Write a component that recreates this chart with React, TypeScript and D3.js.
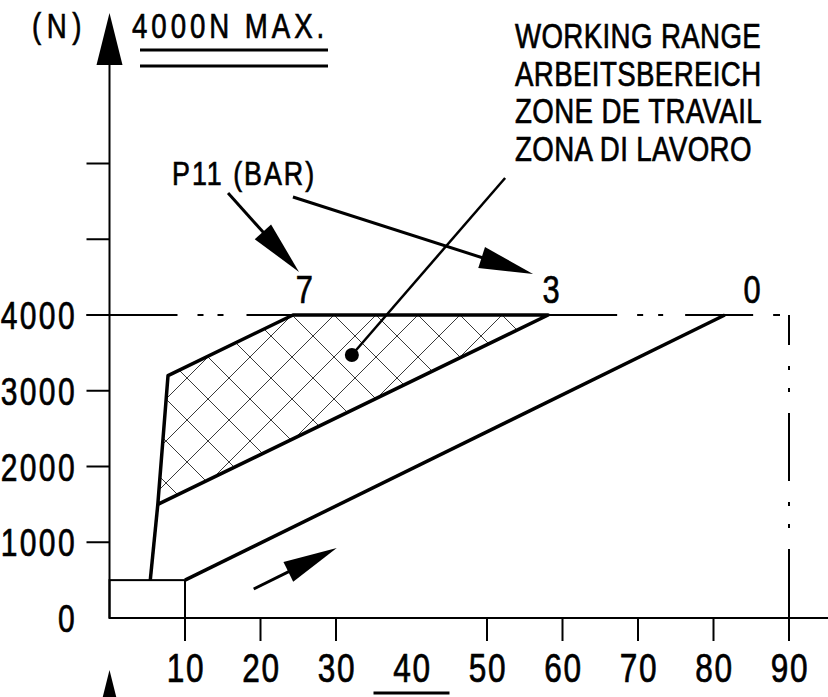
import { useEffect, useRef } from "react";
import * as d3 from "d3";

const W = 828;
const H = 697;
const FONT = "'Liberation Sans', Arial, sans-serif";
const SX = 0.79; // narrow drafting lettering

// stroke (mm) on x, force (N) on y
const xTickValues = [10, 20, 30, 40, 50, 60, 70, 80, 90];
const xUnmarked = [40];
const yTickValues = [1000, 2000, 3000, 4000, 5000, 6000];
const yLabelValues = [0, 1000, 2000, 3000, 4000];

const maxForce = 4000;
const maxStroke = 90;

const startBox: [number, number][] = [[0, 0], [10, 500]];
const workingRange: [number, number][] = [[6.4, 1500], [7.75, 3200], [24.3, 4000], [58.1, 4000]];
const leftFlank: [number, number][] = [[5.4, 500], [6.4, 1500]];
const zeroBarLine: [number, number][] = [[10, 500], [81.5, 4000]];

const pressureLabels = ["7", "3", "0"];
const pressureLabelX = [25.8, 58.5, 85.1];

const legendLines = ["WORKING RANGE", "ARBEITSBEREICH", "ZONE DE TRAVAIL", "ZONA DI LAVORO"];
const rangeDot: [number, number] = [32.1, 3472];
const rangeLeaderEnd: [number, number] = [52.4, 5809];
const barArrows: { from: [number, number]; to: [number, number] }[] = [
  { from: [15.7, 5610], to: [25.1, 4568] },
  { from: [24.3, 5558], to: [56.1, 4541] },
];
const travelArrow: { from: [number, number]; to: [number, number] } = { from: [19.1, 383], to: [30.1, 924] };

export default function App() {
  const svgRef = useRef<SVGSVGElement>(null);

  useEffect(() => {
    if (!svgRef.current) return;
    const svg = d3.select(svgRef.current);
    svg.selectAll("*").remove();

    const x = d3.scaleLinear().domain([0, 90]).range([109.5, 789]);
    const y = d3.scaleLinear().domain([0, 4000]).range([618, 315]);
    const line = d3.line<[number, number]>().x((d) => x(d[0])).y((d) => y(d[1]));
    const tickLen = 23;

    // hatch pattern
    const defs = svg.append("defs");
    const s = 42;
    const pat = defs
      .append("pattern")
      .attr("id", "hatch")
      .attr("patternUnits", "userSpaceOnUse")
      .attr("x", 292)
      .attr("y", y(maxForce))
      .attr("width", s)
      .attr("height", s);
    pat.append("path").attr("d", `M0,0L${s},${s}M${s},0L0,${s}`).attr("stroke", "#3a3a3a").attr("stroke-width", 1);

    const g = svg.append("g");

    const label = (
      t: string,
      tx: number,
      ty: number,
      size: number,
      anchor = "start",
      spacing = 0
    ) =>
      g
        .append("text")
        .attr("transform", `translate(${tx},${ty}) scale(${SX},1)`)
        .attr("text-anchor", anchor)
        .attr("font-family", FONT)
        .attr("font-size", size)
        .attr("letter-spacing", spacing)
        .attr("fill", "#000")
        .attr("stroke", "#000")
        .attr("stroke-width", 0.7)
        .text(t);

    // axes
    const x0 = x(0);
    const yTop = 65;
    g.append("line").attr("x1", x0).attr("x2", x0).attr("y1", y(0)).attr("y2", yTop).attr("stroke", "#000").attr("stroke-width", 2);
    g.append("path").attr("d", `M${x0},13L${x0 - 13},${yTop}L${x0 + 13},${yTop}Z`).attr("fill", "#000");
    g.append("path").attr("d", `M${x0},670L${x0 - 13},722L${x0 + 13},722Z`).attr("fill", "#000");
    g.append("line").attr("x1", x0).attr("x2", W).attr("y1", y(0)).attr("y2", y(0)).attr("stroke", "#000").attr("stroke-width", 2);

    g.selectAll(".ytick")
      .data(yTickValues)
      .join("line")
      .attr("x1", x0 - tickLen)
      .attr("x2", x0)
      .attr("y1", (d) => y(d))
      .attr("y2", (d) => y(d))
      .attr("stroke", "#000")
      .attr("stroke-width", 2);

    yLabelValues.forEach((v) => label(String(v), 77, y(v) + 14, 38, "end", 3));

    g.selectAll(".xtick")
      .data(xTickValues.filter((v) => !xUnmarked.includes(v)))
      .join("line")
      .attr("x1", (d) => x(d))
      .attr("x2", (d) => x(d))
      .attr("y1", y(0))
      .attr("y2", y(0) + tickLen)
      .attr("stroke", "#000")
      .attr("stroke-width", 2);

    xTickValues.forEach((v) => label(String(v), x(v) + 1, 682, 40, "middle", 2));

    xUnmarked.forEach((v) => {
      g.append("line").attr("x1", x(v) - 38).attr("x2", x(v) + 38).attr("y1", 693).attr("y2", 693).attr("stroke", "#000").attr("stroke-width", 3);
    });

    // dash-dot limits
    g.append("line")
      .attr("x1", x0 - tickLen).attr("x2", x(workingRange[2][0]))
      .attr("y1", y(maxForce)).attr("y2", y(maxForce))
      .attr("stroke", "#000").attr("stroke-width", 2)
      .attr("stroke-dasharray", "91,20,6,14,6,23,400");
    g.append("line")
      .attr("x1", x(workingRange[3][0])).attr("x2", 780)
      .attr("y1", y(maxForce)).attr("y2", y(maxForce))
      .attr("stroke", "#000").attr("stroke-width", 2)
      .attr("stroke-dasharray", "69,20,6,15,5,22,68,20,7,100");
    g.append("line")
      .attr("x1", x(maxStroke)).attr("x2", x(maxStroke))
      .attr("y1", y(maxForce)).attr("y2", y(0))
      .attr("stroke", "#000").attr("stroke-width", 2)
      .attr("stroke-dasharray", "68,21,4,18,4,21")
      .attr("stroke-dashoffset", 38);

    // start box
    g.append("rect")
      .attr("x", x(startBox[0][0]))
      .attr("y", y(startBox[1][1]))
      .attr("width", x(startBox[1][0]) - x(startBox[0][0]))
      .attr("height", y(startBox[0][1]) - y(startBox[1][1]))
      .attr("fill", "none")
      .attr("stroke", "#000")
      .attr("stroke-width", 2);

    // working range
    g.append("path").attr("d", line(workingRange) + "Z").attr("fill", "url(#hatch)").attr("stroke", "#000").attr("stroke-width", 3.5).attr("stroke-linejoin", "round");
    g.append("path").attr("d", line(leftFlank)).attr("fill", "none").attr("stroke", "#000").attr("stroke-width", 3.5);
    g.append("path").attr("d", line(zeroBarLine)).attr("fill", "none").attr("stroke", "#000").attr("stroke-width", 3.5);

    // pressure labels
    pressureLabels.forEach((t, i) => label(t, x(pressureLabelX[i]), 303, 39, "middle"));

    const arrow = (from: [number, number], to: [number, number]) => {
      const p0 = [x(from[0]), y(from[1])];
      const p1 = [x(to[0]), y(to[1])];
      const dx = p1[0] - p0[0];
      const dy = p1[1] - p0[1];
      const L = Math.hypot(dx, dy);
      const ux = dx / L;
      const uy = dy / L;
      const len = 54;
      const w = 22;
      const bx = p1[0] - ux * len;
      const by = p1[1] - uy * len;
      g.append("line").attr("x1", p0[0]).attr("y1", p0[1]).attr("x2", bx + ux * 5).attr("y2", by + uy * 5).attr("stroke", "#000").attr("stroke-width", 3);
      g.append("path")
        .attr("d", `M${p1[0]},${p1[1]}L${bx - uy * w / 2},${by + ux * w / 2}L${bx + uy * w / 2},${by - ux * w / 2}Z`)
        .attr("fill", "#000");
    };
    barArrows.forEach((a) => arrow(a.from, a.to));
    arrow(travelArrow.from, travelArrow.to);

    // leader + dot
    g.append("line")
      .attr("x1", x(rangeDot[0])).attr("y1", y(rangeDot[1]))
      .attr("x2", x(rangeLeaderEnd[0])).attr("y2", y(rangeLeaderEnd[1]))
      .attr("stroke", "#000").attr("stroke-width", 2.5);
    g.append("circle").attr("cx", x(rangeDot[0])).attr("cy", y(rangeDot[1])).attr("r", 7).attr("fill", "#000");

    // text annotations
    label("P11 (BAR)", 172, 185, 34, "start", 2.5);
    label("(N)", 32, 38, 35, "start", 7);
    label("4000N MAX.", 132, 38, 35, "start", 5);
    [50, 66].forEach((yy) => {
      g.append("line").attr("x1", 140).attr("x2", 328).attr("y1", yy).attr("y2", yy).attr("stroke", "#000").attr("stroke-width", 3);
    });
    legendLines.forEach((t, i) => label(t, 515, 48 + i * 37.7, 35, "start", 0.5));
  }, []);

  return (
    <svg
      ref={svgRef}
      width={W}
      height={H}
      style={{ position: "absolute", left: 0, top: 0, background: "#fff" }}
    />
  );
}
